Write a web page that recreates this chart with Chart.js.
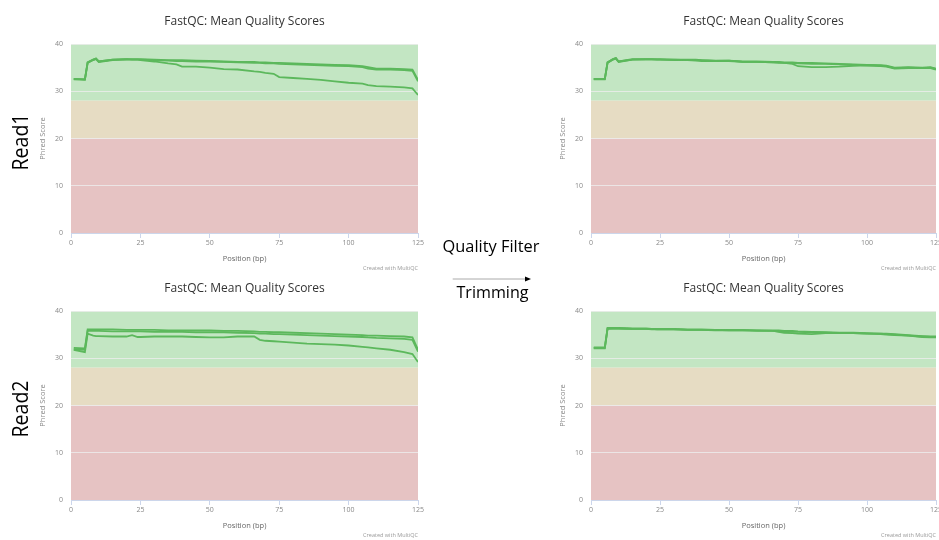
<!DOCTYPE html>
<html>
<head>
<meta charset="utf-8">
<script src="https://cdn.jsdelivr.net/npm/chart.js@4.4.1/dist/chart.umd.min.js"></script>
<style>
  html, body { margin: 0; padding: 0; background: #fff; overflow: hidden; }
  body { width: 939px; height: 540px; position: relative; }
  canvas { position: absolute; }
  svg { position: absolute; left: 0; top: 0; }
</style>
</head>
<body>
<canvas id="r1before" width="426" height="272" style="left:0;top:0"></canvas>
<canvas id="r1after" width="424" height="272" style="left:520px;top:0"></canvas>
<canvas id="r2before" width="426" height="272" style="left:0;top:267px"></canvas>
<canvas id="r2after" width="424" height="272" style="left:520px;top:267px"></canvas>

<svg width="939" height="540">
  <g font-family="Open Sans, sans-serif" fill="#000">
    <text transform="translate(28.3,142) rotate(-90)" text-anchor="middle" font-size="22" textLength="57" lengthAdjust="spacingAndGlyphs">Read1</text>
    <text transform="translate(28.3,409) rotate(-90)" text-anchor="middle" font-size="22" textLength="57" lengthAdjust="spacingAndGlyphs">Read2</text>
    <text x="491" y="251.7" text-anchor="middle" font-size="17" textLength="97" lengthAdjust="spacingAndGlyphs">Quality Filter</text>
    <text x="492.5" y="298.3" text-anchor="middle" font-size="17" textLength="72" lengthAdjust="spacingAndGlyphs">Trimming</text>
  </g>
  <line x1="452.7" y1="279" x2="526" y2="279" stroke="#aaa" stroke-width="1"/>
  <polygon points="525,276.5 531,279 525,281.5" fill="#000"/>
</svg>

<script>
// x positions (bp) shared by every sample line
const positions = [1, 5, 6, 8, 9, 10, 15, 20, 22, 24, 25, 30, 35, 38, 40, 45, 50, 55, 60, 66, 68, 70, 73, 75, 80, 85, 90, 95, 100, 105, 107, 110, 115, 120, 123, 125];

// Read1 before trimming
const r1BeforeA = [32.6, 32.5, 36.1, 36.7, 36.9, 36.3, 36.7, 36.8, 36.8, 36.8, 36.8, 36.7, 36.6, 36.6, 36.6, 36.5, 36.4, 36.3, 36.2, 36.2, 36.1, 36.1, 36.0, 36.0, 35.9, 35.8, 35.7, 35.6, 35.5, 35.3, 35.1, 34.8, 34.8, 34.7, 34.6, 32.4];
const r1BeforeB = [32.5, 32.4, 36.0, 36.6, 36.8, 36.2, 36.6, 36.7, 36.7, 36.7, 36.7, 36.6, 36.5, 36.4, 36.4, 36.3, 36.3, 36.2, 36.1, 36.0, 36.0, 35.9, 35.9, 35.8, 35.7, 35.6, 35.5, 35.4, 35.3, 35.1, 34.8, 34.6, 34.6, 34.5, 34.3, 32.1];
const r1BeforeC = [32.6, 32.5, 36.1, 36.7, 36.9, 36.3, 36.7, 36.8, 36.7, 36.7, 36.6, 36.3, 35.9, 35.7, 35.2, 35.2, 35.0, 34.7, 34.6, 34.2, 34.1, 33.9, 33.7, 33.0, 32.8, 32.6, 32.4, 32.1, 31.8, 31.6, 31.3, 31.1, 31.0, 30.8, 30.6, 29.2];

// Read1 after trimming
const r1AfterA = [32.6, 32.6, 36.1, 36.8, 37.0, 36.3, 36.8, 36.8, 36.8, 36.8, 36.8, 36.7, 36.7, 36.7, 36.6, 36.5, 36.5, 36.3, 36.3, 36.2, 36.2, 36.1, 36.1, 36.0, 36.0, 35.9, 35.8, 35.7, 35.6, 35.5, 35.4, 35.0, 35.1, 35.0, 35.1, 34.8];
const r1AfterB = [32.5, 32.5, 36.0, 36.7, 36.9, 36.2, 36.7, 36.7, 36.7, 36.7, 36.7, 36.6, 36.6, 36.5, 36.4, 36.4, 36.4, 36.2, 36.2, 36.1, 36.1, 36.0, 36.0, 35.9, 35.8, 35.8, 35.7, 35.6, 35.5, 35.3, 35.2, 34.8, 34.9, 34.9, 34.9, 34.6];
const r1AfterC = [32.6, 32.6, 36.1, 36.8, 37.0, 36.3, 36.7, 36.8, 36.8, 36.7, 36.7, 36.7, 36.6, 36.6, 36.6, 36.4, 36.5, 36.2, 36.2, 36.1, 36.0, 36.0, 35.8, 35.3, 35.1, 35.1, 35.2, 35.4, 35.5, 35.4, 35.3, 34.9, 35.0, 34.9, 35.0, 34.7];

// Read2 before trimming
const r2BeforeA = [32.2, 32.1, 36.1, 36.1, 36.1, 36.1, 36.1, 36.0, 36.0, 36.0, 36.0, 36.0, 35.9, 35.9, 35.9, 35.9, 35.9, 35.8, 35.8, 35.7, 35.6, 35.6, 35.5, 35.5, 35.4, 35.3, 35.2, 35.1, 35.0, 34.9, 34.8, 34.8, 34.7, 34.6, 34.4, 31.8];
const r2BeforeB = [31.9, 31.8, 35.8, 35.8, 35.8, 35.8, 35.7, 35.7, 35.7, 35.7, 35.7, 35.6, 35.6, 35.6, 35.6, 35.5, 35.5, 35.5, 35.4, 35.3, 35.2, 35.2, 35.1, 35.1, 35.0, 34.9, 34.8, 34.7, 34.6, 34.5, 34.4, 34.3, 34.2, 34.1, 33.9, 31.4];
const r2BeforeC = [31.8, 31.3, 35.2, 34.8, 34.7, 34.7, 34.6, 34.6, 34.9, 34.5, 34.5, 34.6, 34.6, 34.6, 34.6, 34.5, 34.4, 34.4, 34.6, 34.6, 33.9, 33.7, 33.6, 33.5, 33.3, 33.1, 33.0, 32.9, 32.7, 32.4, 32.3, 32.1, 31.8, 31.3, 30.9, 29.2];

// Read2 after trimming
const r2AfterA = [32.3, 32.3, 36.4, 36.4, 36.4, 36.4, 36.3, 36.3, 36.2, 36.2, 36.2, 36.2, 36.1, 36.1, 36.1, 36.0, 36.0, 36.0, 35.9, 35.9, 35.9, 35.8, 35.8, 35.7, 35.6, 35.5, 35.4, 35.4, 35.3, 35.2, 35.2, 35.1, 34.9, 34.7, 34.6, 34.6];
const r2AfterB = [32.1, 32.1, 36.2, 36.3, 36.3, 36.3, 36.2, 36.2, 36.1, 36.1, 36.1, 36.1, 36.0, 36.0, 36.0, 35.9, 35.9, 35.9, 35.8, 35.8, 35.7, 35.7, 35.6, 35.6, 35.5, 35.4, 35.3, 35.3, 35.2, 35.1, 35.0, 34.9, 34.8, 34.5, 34.4, 34.4];
const r2AfterC = [32.2, 32.2, 36.3, 36.3, 36.3, 36.3, 36.2, 36.2, 36.2, 36.1, 36.1, 36.1, 36.0, 36.0, 36.0, 36.0, 35.9, 35.9, 35.9, 35.8, 35.6, 35.4, 35.3, 35.2, 35.1, 35.3, 35.3, 35.3, 35.2, 35.2, 35.1, 35.0, 34.8, 34.6, 34.5, 34.5];

// quality bands (Phred score ranges)
const bands = [
    { from: 28, to: 40, color: '#c3e6c3' },
    { from: 20, to: 28, color: '#e6dcc3' },
    { from: 0, to: 20, color: '#e6c3c3' }
];

Chart.defaults.font.family = "'Open Sans', sans-serif";
Chart.defaults.color = '#777';

// paint the pass / warn / fail bands behind the grid
const bandPlugin = {
    id: 'bands',
    beforeDraw(chart) {
        const { ctx, chartArea, scales } = chart;
        ctx.save();
        bands.forEach(b => {
            const top = scales.y.getPixelForValue(b.to);
            const bottom = scales.y.getPixelForValue(b.from);
            ctx.fillStyle = b.color;
            ctx.fillRect(chartArea.left, top, chartArea.right - chartArea.left, bottom - top);
        });
        ctx.restore();
    }
};

// small credit under the plot
const creditPlugin = {
    id: 'credit',
    afterDraw(chart) {
        const { ctx, chartArea } = chart;
        ctx.save();
        ctx.font = "5.5px 'Open Sans', sans-serif";
        ctx.fillStyle = '#999';
        ctx.textAlign = 'right';
        ctx.textBaseline = 'middle';
        ctx.fillText('Created with MultiQC', chartArea.right, chartArea.bottom + 35);
        ctx.restore();
    }
};

function makeChart(id, seriesList) {
    const datasets = seriesList.map(vals => ({
        data: positions.map((x, i) => ({ x: x, y: vals[i] })),
        borderColor: '#5cb85c',
        borderWidth: 1.8,
        pointRadius: 0,
        tension: 0,
        fill: false
    }));

    return new Chart(document.getElementById(id), {
        type: 'line',
        data: { datasets },
        plugins: [bandPlugin, creditPlugin],
        options: {
            responsive: false,
            animation: false,
            layout: { padding: { left: 34, right: 8, top: 0, bottom: 5 } },
            plugins: {
                legend: { display: false },
                tooltip: { enabled: false },
                title: {
                    display: true,
                    text: 'FastQC: Mean Quality Scores',
                    color: '#333',
                    fullSize: false,
                    font: { size: 12, weight: 'normal' },
                    padding: { top: 14, bottom: 15.6 }
                }
            },
            scales: {
                x: {
                    type: 'linear',
                    min: 0,
                    max: 125,
                    afterFit: s => { s.height = 34; },
                    ticks: { stepSize: 25, font: { size: 7 }, color: '#888', padding: 1, maxRotation: 0 },
                    grid: { drawOnChartArea: false, drawTicks: true, tickLength: 5, color: '#ccd6eb' },
                    border: { display: true, color: '#ccd6eb' },
                    title: { display: true, text: 'Position (bp)', color: '#666', font: { size: 7.5 }, padding: { top: 4, bottom: 4 } }
                },
                y: {
                    min: 0,
                    max: 40,
                    afterFit: s => { s.width = 37; },
                    ticks: { stepSize: 10, font: { size: 7 }, color: '#888', padding: 8 },
                    grid: { drawTicks: false, color: 'rgba(238,238,238,0.8)' },
                    border: { display: false },
                    title: { display: true, text: 'Phred Score', color: '#888', font: { size: 7.5 }, padding: { top: 4, bottom: 4 } }
                }
            }
        }
    });
}

makeChart('r1before', [r1BeforeC, r1BeforeB, r1BeforeA]);
makeChart('r1after', [r1AfterC, r1AfterB, r1AfterA]);
makeChart('r2before', [r2BeforeC, r2BeforeB, r2BeforeA]);
makeChart('r2after', [r2AfterC, r2AfterB, r2AfterA]);
</script>
</body>
</html>
